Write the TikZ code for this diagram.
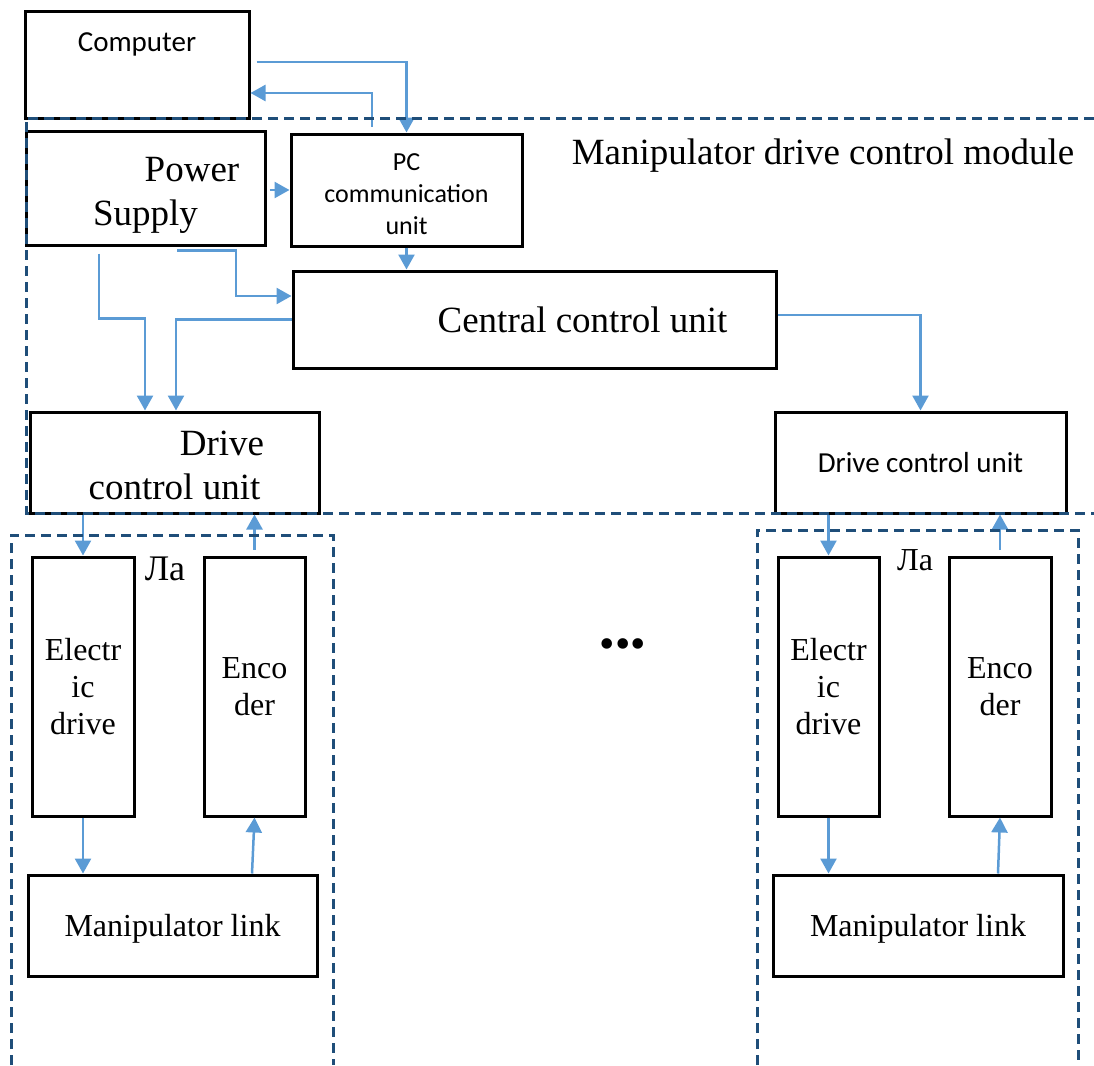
\documentclass[tikz,border=0pt]{standalone}
\usepackage{fontspec}
\setmainfont{Liberation Serif}
\newfontfamily\sansfont{Carlito}
\usetikzlibrary{positioning,arrows.meta}
\definecolor{arrowblue}{HTML}{5B9BD5}
\definecolor{dashblue}{HTML}{1F4E79}

\begin{document}
\begin{tikzpicture}[x=1pt, y=-1pt, >={Triangle[length=15pt,width=16pt]},
  box/.style={draw, line width=3pt, inner sep=0pt, align=center},
  bigserif/.style={font=\fontsize{37}{44}\selectfont},
  midserif/.style={font=\fontsize{32}{37}\selectfont},
  sans/.style={font=\sansfont\fontsize{29}{34}\selectfont},
  sig/.style={->, arrowblue, line width=2.5pt},
  modframe/.style={dashblue, line width=3pt, dash pattern=on 10pt off 6pt}]

  \useasboundingbox (0,0) rectangle (1094,1065);

  % Define nodes
  \node[box, sans, minimum width=224pt, minimum height=106pt, text depth=45pt] (comp) at (137,65) {Computer};
  \node[box, bigserif, minimum width=239pt, minimum height=114pt, text height=82pt] (power) at (145.5,188) {\hspace*{93pt}Power\\Supply};
  \node[box, font=\sansfont\fontsize{26}{32}\selectfont, minimum width=231pt, minimum height=112pt, text height=90pt] (pc) at (406.5,190) {PC\\communication\\unit};
  \node[box, bigserif, minimum width=483pt, minimum height=97pt] (ccu) at (534.5,319.5) {\hspace*{96pt}Central control unit};
  \node[box, bigserif, minimum width=289pt, minimum height=101pt, text height=74pt] (dcu1) at (174.5,462.5) {\hspace*{95pt}Drive\\control unit};
  \node[box, sans, minimum width=291pt, minimum height=101pt] (dcu2) at (920.5,462.5) {Drive control unit};
  \node[bigserif] (modlabel) at (823,156) {Manipulator drive control module};

  % Left link
  \node[box, midserif, minimum width=102pt, minimum height=259pt] (ed1) at (83,686.5) {Electr\\ic\\drive};
  \node[box, midserif, minimum width=101pt, minimum height=259pt] (enc1) at (254.5,686.5) {Enco\\der};
  \node[box, midserif, minimum width=289pt, minimum height=101pt, text depth=0pt] (link1) at (172.5,925.5) {Manipulator link};
  \node[font=\fontsize{36}{40}\selectfont] (la1) at (165,569) {Ла};

  % Right link
  \node[box, midserif, minimum width=101pt, minimum height=259pt] (ed2) at (828.5,686.5) {Electr\\ic\\drive};
  \node[box, midserif, minimum width=102pt, minimum height=259pt] (enc2) at (1000,686.5) {Enco\\der};
  \node[box, midserif, minimum width=290pt, minimum height=101pt, text depth=0pt] (link2) at (918,925.5) {Manipulator link};
  \node[font=\fontsize{32}{36}\selectfont] (la2) at (915,560) {Ла};

  \node[font=\fontsize{44}{50}\selectfont] (dots) at (623,649) {•••};

  % Define edges
  \draw[sig] ([xshift=6pt,yshift=3pt]comp.east) -| (pc.north);
  \draw[sig] ([xshift=-34.5pt,yshift=6pt]pc.north) |- ([yshift=-28pt]comp.east);
  \draw[sig, shorten <=3pt] (power.east |- pc.west) -- (pc.west);
  \draw[sig] (pc.south) -- (pc.south |- ccu.north);
  \draw[sig] ([xshift=31.5pt,yshift=-4pt]power.south) -- ([xshift=90.5pt,yshift=-4pt]power.south) |- ([yshift=23.5pt]ccu.west);
  \draw[sig] ([xshift=-46.5pt,yshift=-7pt]power.south) |- ([xshift=-29.5pt,yshift=92pt]dcu1.north) -- ([xshift=-29.5pt]dcu1.north);
  \draw[sig] (ccu.west) -| ([xshift=1.5pt]dcu1.north);
  \draw[sig] ([yshift=4.5pt]ccu.east) -| (dcu2.north);

  \draw[sig] (dcu1.south -| ed1.north) -- (ed1.north);
  \draw[sig] ([yshift=6pt]enc1.north) -- (enc1.north |- dcu1.south);
  \draw[sig] (ed1.south) -- (ed1.south |- link1.north);
  \draw[sig] ([xshift=-2.5pt]enc1.south |- link1.north) -- (enc1.south);

  \draw[sig] (dcu2.south -| ed2.north) -- (ed2.north);
  \draw[sig] ([yshift=6pt]enc2.north) -- (enc2.north |- dcu2.south);
  \draw[sig] (ed2.south) -- (ed2.south |- link2.north);
  \draw[sig] ([xshift=-2pt]enc2.south |- link2.north) -- (enc2.south);

  % Dashed frames
  \draw[modframe] (1094,118) -- (26,118) -- (26,513) -- (1094,513);
  \draw[modframe] (11,1065) -- (11,535) -- (333,535) -- (333,1065);
  \draw[modframe] (757,1065) -- (757,530) -- (1078,530) -- (1078,1065);
\end{tikzpicture}
\end{document}
